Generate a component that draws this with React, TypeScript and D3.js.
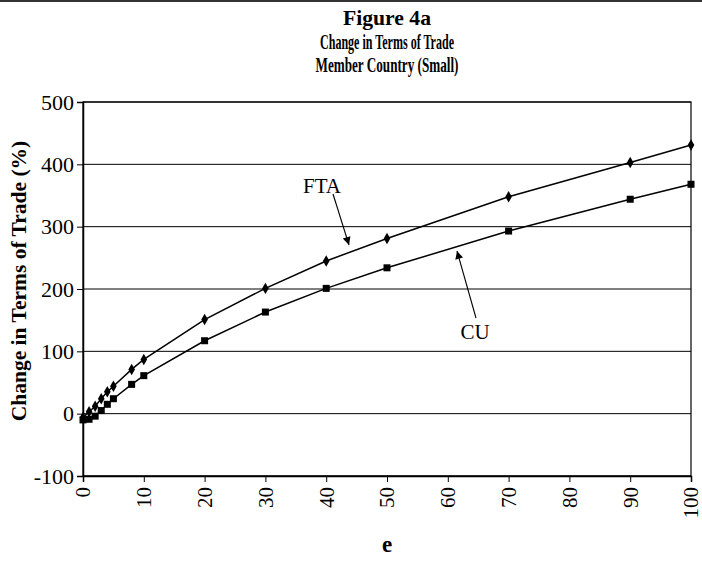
import React, { Component } from "react";
import * as d3 from "d3";

// e values (x axis) and the two series
const eValues = [0, 1, 2, 3, 4, 5, 8, 10, 20, 30, 40, 50, 70, 90, 100];
const ftaValues = [-6, 3, 12, 24, 35, 44, 71, 87, 151, 201, 245, 281, 348, 403, 431];
const cuValues = [-10, -9, -4, 5, 15, 24, 47, 61, 117, 163, 201, 234, 293, 344, 368];

const xTicks = [0, 10, 20, 30, 40, 50, 60, 70, 80, 90, 100];
const yTicks = [-100, 0, 100, 200, 300, 400, 500];

const titleLines = ["Figure 4a", "Change in Terms of Trade", "Member Country (Small)"];

class App extends Component {
  constructor(props) {
    super(props);
    this.chart = React.createRef();
  }
  componentDidMount() {
    this.drawChart(this.chart);
  }
  drawChart = (element) => {
    const width = 702;
    const height = 568;
    const margin = { top: 102, right: 11, bottom: 92, left: 83 };
    const innerW = width - margin.left - margin.right;
    const innerH = height - margin.top - margin.bottom;
    const serif = "'Liberation Serif', 'Times New Roman', serif";

    const svg = d3
      .select(element.current)
      .append("svg")
      .attr("width", width)
      .attr("height", height)
      .style("display", "block")
      .style("background", "#fff");

    // thin rule at the very top
    svg.append("rect").attr("x", 0).attr("y", 0).attr("width", width).attr("height", 2).attr("fill", "#333");

    const titleWidths = [88, 134, 143];
    titleLines.forEach((t, i) => {
      svg
        .append("text")
        .attr("x", margin.left + innerW / 2)
        .attr("y", 25 + i * 23.5)
        .attr("text-anchor", "middle")
        .attr("font-family", serif)
        .attr("font-weight", "bold")
        .attr("font-size", 21)
        .attr("textLength", titleWidths[i])
        .attr("lengthAdjust", "spacingAndGlyphs")
        .text(t);
    });

    const g = svg.append("g").attr("transform", "translate(" + margin.left + "," + margin.top + ")");

    const x = d3.scaleLinear().domain([0, 100]).range([0, innerW]);
    const y = d3.scaleLinear().domain([-100, 500]).range([innerH, 0]);

    // gridlines
    g.selectAll(".grid")
      .data(yTicks)
      .enter()
      .append("line")
      .attr("x1", 0)
      .attr("x2", innerW)
      .attr("y1", (d) => y(d))
      .attr("y2", (d) => y(d))
      .attr("stroke", "#000")
      .attr("stroke-width", 1);

    // plot frame
    g.append("rect")
      .attr("x", 0)
      .attr("y", 0)
      .attr("width", innerW)
      .attr("height", innerH)
      .attr("fill", "none")
      .attr("stroke", "#000")
      .attr("stroke-width", 1.2);

    // y axis (plain hyphen for negatives, as in the original)
    const yAxis = d3
      .axisLeft(y)
      .tickValues(yTicks)
      .tickSize(6)
      .tickPadding(3)
      .tickFormat((d) => String(d));
    const yg = g.append("g").call(yAxis);
    yg.select(".domain").attr("stroke-width", 1.5);
    yg.selectAll("text").attr("font-family", serif).attr("font-size", 22).attr("fill", "#000");

    // x axis
    const xAxis = d3.axisBottom(x).tickValues(xTicks).tickSize(6).tickFormat((d) => String(d));
    const xg = g.append("g").attr("transform", "translate(0," + innerH + ")").call(xAxis);
    xg.select(".domain").attr("stroke-width", 1.5);
    xg.selectAll("text")
      .attr("font-family", serif)
      .attr("font-size", 21)
      .attr("fill", "#000")
      .attr("transform", "rotate(-90)")
      .attr("text-anchor", "end")
      .attr("dy", "0.33em")
      .attr("x", -11)
      .attr("y", 0);

    // axis titles
    svg
      .append("text")
      .attr("transform", "translate(26,281) rotate(-90)")
      .attr("text-anchor", "middle")
      .attr("font-family", serif)
      .attr("font-weight", "bold")
      .attr("font-size", 21.5)
      .text("Change in Terms of Trade (%)");

    svg
      .append("text")
      .attr("x", margin.left + innerW / 2)
      .attr("y", 552)
      .attr("text-anchor", "middle")
      .attr("font-family", serif)
      .attr("font-weight", "bold")
      .attr("font-size", 23)
      .text("e");

    const line = d3
      .line()
      .x((d) => x(d[0]))
      .y((d) => y(d[1]));

    const fta = eValues.map((e, i) => [e, ftaValues[i]]);
    const cu = eValues.map((e, i) => [e, cuValues[i]]);

    [fta, cu].forEach((series) => {
      g.append("path")
        .datum(series)
        .attr("d", line)
        .attr("fill", "none")
        .attr("stroke", "#000")
        .attr("stroke-width", 1.5);
    });

    // markers: diamonds for FTA, squares for CU
    g.selectAll(".fta-pt")
      .data(fta)
      .enter()
      .append("path")
      .attr("d", d3.symbol().type(d3.symbolDiamond).size(38))
      .attr("transform", (d) => "translate(" + x(d[0]) + "," + y(d[1]) + ")")
      .attr("fill", "#000");

    g.selectAll(".cu-pt")
      .data(cu)
      .enter()
      .append("rect")
      .attr("x", (d) => x(d[0]) - 3.5)
      .attr("y", (d) => y(d[1]) - 3.5)
      .attr("width", 7)
      .attr("height", 7)
      .attr("fill", "#000");

    // annotations with arrows
    const defs = svg.append("defs");
    defs
      .append("marker")
      .attr("id", "arrow")
      .attr("viewBox", "0 0 10 10")
      .attr("refX", 10)
      .attr("refY", 5)
      .attr("markerWidth", 11)
      .attr("markerHeight", 8)
      .attr("markerUnits", "userSpaceOnUse")
      .attr("orient", "auto")
      .append("path")
      .attr("d", "M0,0 L10,5 L0,10 Z")
      .attr("fill", "#000");

    const notes = [
      { label: "FTA", tx: 322, ty: 193, from: [333, 194], to: [349, 245] },
      { label: "CU", tx: 475, ty: 339, from: [476, 318], to: [457, 251] },
    ];
    notes.forEach((n) => {
      svg
        .append("text")
        .attr("x", n.tx)
        .attr("y", n.ty)
        .attr("text-anchor", "middle")
        .attr("font-family", serif)
        .attr("font-size", 21)
        .text(n.label);
      svg
        .append("line")
        .attr("x1", n.from[0])
        .attr("y1", n.from[1])
        .attr("x2", n.to[0])
        .attr("y2", n.to[1])
        .attr("stroke", "#000")
        .attr("stroke-width", 1.1)
        .attr("marker-end", "url(#arrow)");
    });
  };
  render() {
    return <div ref={this.chart} style={{ position: "absolute", left: 0, top: 0 }}></div>;
  }
}

export default App;
